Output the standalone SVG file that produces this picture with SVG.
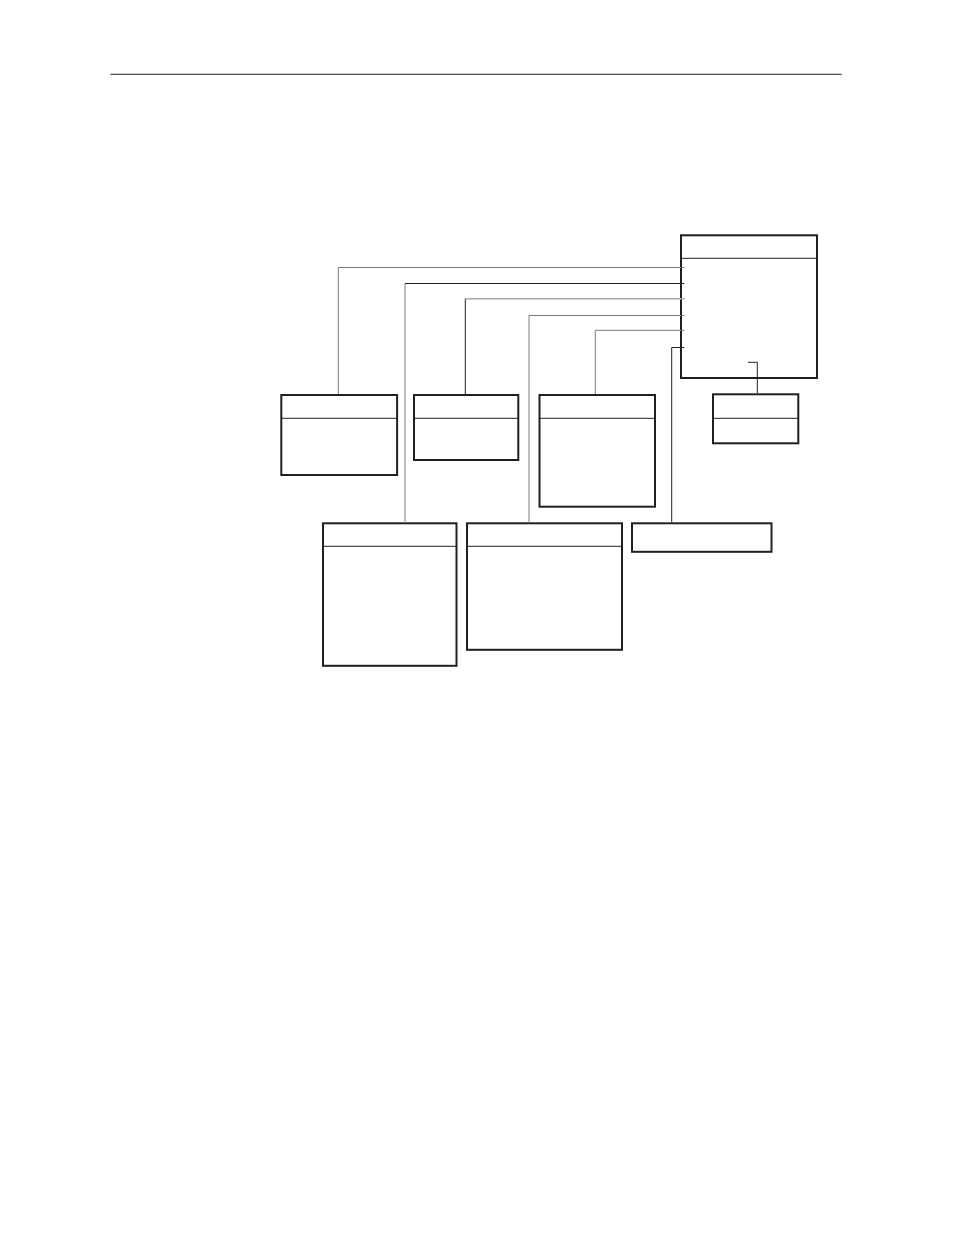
<svg xmlns="http://www.w3.org/2000/svg" width="954" height="1235" viewBox="0 0 954 1235">
<style>
.box{fill:#fff;stroke:#231f20;stroke-width:2}
.div{stroke:#231f20;stroke-width:1;fill:none}
.c{fill:none;stroke-width:1}
.k{stroke:#231f20}
.m{stroke:#777}
.l{stroke:#aaa;stroke-width:1.5}
</style>
<rect width="954" height="1235" fill="#fff"/>
<line x1="110.5" y1="74.3" x2="841.7" y2="74.3" stroke="#231f20" stroke-width="1"/>
<g id="main">
<rect class="box" x="681" y="235.3" width="136" height="142.7"/>
<line class="div" x1="681" y1="258.3" x2="817" y2="258.3"/>
</g>
<g id="node1">
<rect class="box" x="281.3" y="395" width="115.8" height="80"/>
<line class="div" x1="281.3" y1="418.3" x2="397" y2="418.3"/>
</g>
<g id="node2">
<rect class="box" x="414" y="395" width="104.3" height="65"/>
<line class="div" x1="414" y1="418.3" x2="518.3" y2="418.3"/>
</g>
<g id="node3">
<rect class="box" x="539.5" y="395" width="115.5" height="111.7"/>
<line class="div" x1="539.5" y1="418.3" x2="655" y2="418.3"/>
</g>
<g id="node4">
<rect class="box" x="713" y="394.3" width="85.3" height="49"/>
<line class="div" x1="713" y1="418.3" x2="798.3" y2="418.3"/>
</g>
<g id="node5">
<rect class="box" x="323" y="523.3" width="133.5" height="142.5"/>
<line class="div" x1="323" y1="546.3" x2="456.5" y2="546.3"/>
</g>
<g id="node6">
<rect class="box" x="467" y="523.3" width="155" height="126.5"/>
<line class="div" x1="467" y1="546.3" x2="622" y2="546.3"/>
</g>
<g id="node7">
<rect class="box" x="632" y="523.3" width="139.5" height="28.5"/>
</g>
<g id="connectors">
<polyline class="c m" points="338.3,394 338.3,267.5 684.5,267.5"/>
<polyline class="c l" points="405,522.3 405,283.7"/>
<line class="c k" x1="405" y1="283.5" x2="684.5" y2="283.5"/>
<line class="c k" x1="465.3" y1="298.5" x2="465.3" y2="394"/>
<line class="c l" x1="465.3" y1="298.7" x2="684.5" y2="298.7"/>
<polyline class="c l" points="529,522.3 529,315.5"/>
<line class="c m" x1="529" y1="315.5" x2="684.5" y2="315.5"/>
<polyline class="c m" points="595.3,394 595.3,330.3 684.5,330.3"/>
<polyline class="c k" points="671.7,522.3 671.7,347.5 684.5,347.5"/>
<polyline class="c k" points="748,362.3 757.3,362.3 757.3,393.3"/>
</g>
</svg>
